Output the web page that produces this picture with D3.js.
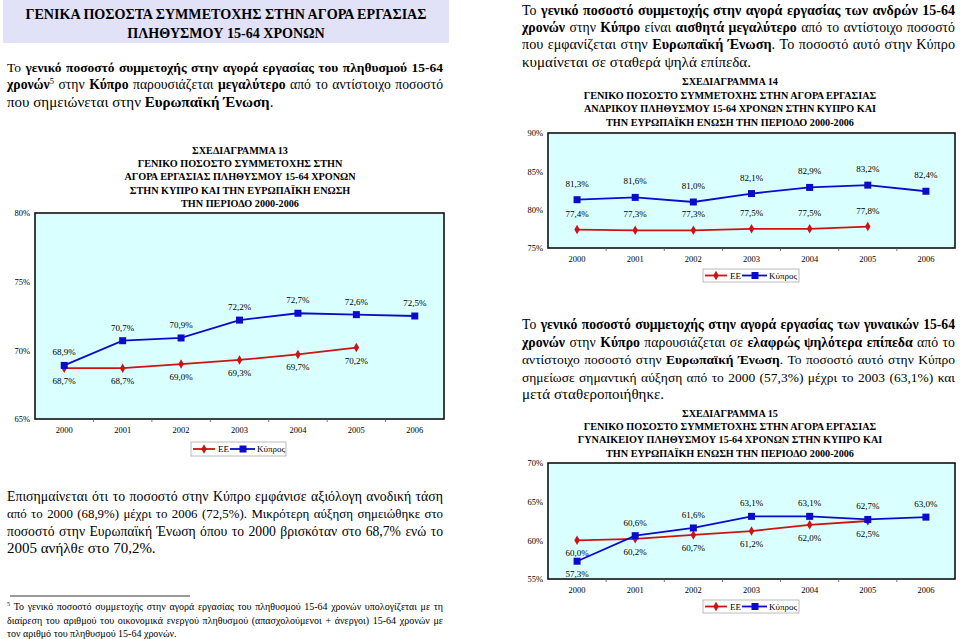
<!DOCTYPE html>
<html><head><meta charset="utf-8">
<script src="https://cdn.jsdelivr.net/npm/d3@7"></script>
<style>body{margin:0;background:#fff} svg{display:block} text{font-family:"Liberation Serif","Times New Roman",serif;fill:#000}</style>
</head><body>
<svg id="c" width="960" height="639"></svg>
<script>
// ---------- DATA ----------
const years = ["2000","2001","2002","2003","2004","2005","2006"];
const seriesNames = ["ΕΕ","Κύπρος"];
const totalEE = [68.7,68.7,69.0,69.3,69.7,70.2];
const totalCY = [68.9,70.7,70.9,72.2,72.7,72.6,72.5];
const menEE = [77.4,77.3,77.3,77.5,77.5,77.8];
const menCY = [81.3,81.6,81.0,82.1,82.9,83.2,82.4];
const womenEE = [60.0,60.2,60.7,61.2,62.0,62.5];
const womenCY = [57.3,60.6,61.6,63.1,63.1,62.7,63.0];
const ticksTotal = [65,70,75,80];
const ticksMen = [75,80,85,90];
const ticksWomen = [55,60,65,70];
// label placement: a = above, b = below
const totalEEPos = ["b","b","b","b","b","b"];
const totalCYPos = ["a","a","a","a","a","a","a"];
const menEEPos = ["a","a","a","a","a","a"];
const menCYPos = ["a","a","a","a","a","a","a"];
const womenEEPos = ["b","b","b","b","b","b"];
const womenCYPos = ["b","a","a","a","a","a","a"];

const headerLines = ["ΓΕΝΙΚΑ ΠΟΣΟΣΤΑ ΣΥΜΜΕΤΟΧΗΣ ΣΤΗΝ ΑΓΟΡΑ ΕΡΓΑΣΙΑΣ","ΠΛΗΘΥΣΜΟΥ 15-64 ΧΡΟΝΩΝ"];
const introLines = [
 "Το **γενικό ποσοστό συμμετοχής στην αγορά εργασίας του πληθυσμού 15-64**",
 "**χρονών**^5 στην **Κύπρο** παρουσιάζεται **μεγαλύτερο** από το αντίστοιχο ποσοστό",
 "που σημειώνεται στην **Ευρωπαϊκή Ένωση**."];
const title13 = ["ΣΧΕΔΙΑΓΡΑΜΜΑ 13","ΓΕΝΙΚΟ ΠΟΣΟΣΤΟ ΣΥΜΜΕΤΟΧΗΣ ΣΤΗΝ","ΑΓΟΡΑ ΕΡΓΑΣΙΑΣ ΠΛΗΘΥΣΜΟΥ 15-64 ΧΡΟΝΩΝ","ΣΤΗΝ ΚΥΠΡΟ ΚΑΙ ΤΗΝ ΕΥΡΩΠΑΪΚΗ ΕΝΩΣΗ","ΤΗΝ ΠΕΡΙΟΔΟ 2000-2006"];
const noteLines = [
 "Επισημαίνεται ότι το ποσοστό στην Κύπρο εμφάνισε αξιόλογη ανοδική τάση",
 "από το 2000 (68,9%) μέχρι το 2006 (72,5%). Μικρότερη αύξηση σημειώθηκε στο",
 "ποσοστό στην Ευρωπαϊκή Ένωση όπου το 2000 βρισκόταν στο 68,7% ενώ το",
 "2005 ανήλθε στο 70,2%."];
const footLines = [
 "^5 Το γενικό ποσοστό συμμετοχής στην αγορά εργασίας του πληθυσμού 15-64 χρονών υπολογίζεται με τη",
 "διαίρεση του αριθμού του οικονομικά ενεργού πληθυσμού (απασχολούμενοι + άνεργοι) 15-64 χρονών με",
 "τον αριθμό του πληθυσμού 15-64 χρονών."];
const menLines = [
 "Το **γενικό ποσοστό συμμετοχής στην αγορά εργασίας των ανδρών 15-64**",
 "**χρονών** στην **Κύπρο** είναι **αισθητά μεγαλύτερο** από το αντίστοιχο ποσοστό",
 "που εμφανίζεται στην **Ευρωπαϊκή Ένωση**. Το ποσοστό αυτό στην Κύπρο",
 "κυμαίνεται σε σταθερά ψηλά επίπεδα."];
const title14 = ["ΣΧΕΔΙΑΓΡΑΜΜΑ 14","ΓΕΝΙΚΟ ΠΟΣΟΣΤΟ ΣΥΜΜΕΤΟΧΗΣ ΣΤΗΝ ΑΓΟΡΑ ΕΡΓΑΣΙΑΣ","ΑΝΔΡΙΚΟΥ ΠΛΗΘΥΣΜΟΥ 15-64 ΧΡΟΝΩΝ ΣΤΗΝ ΚΥΠΡΟ ΚΑΙ","ΤΗΝ ΕΥΡΩΠΑΪΚΗ ΕΝΩΣΗ ΤΗΝ ΠΕΡΙΟΔΟ 2000-2006"];
const womenLines = [
 "Το **γενικό ποσοστό συμμετοχής στην αγορά εργασίας των γυναικών 15-64**",
 "**χρονών** στην **Κύπρο** παρουσιάζεται σε **ελαφρώς ψηλότερα επίπεδα** από το",
 "αντίστοιχο ποσοστό στην **Ευρωπαϊκή Ένωση**. Το ποσοστό αυτό στην Κύπρο",
 "σημείωσε σημαντική αύξηση από το 2000 (57,3%) μέχρι το 2003 (63,1%) και",
 "μετά σταθεροποιήθηκε."];
const title15 = ["ΣΧΕΔΙΑΓΡΑΜΜΑ 15","ΓΕΝΙΚΟ ΠΟΣΟΣΤΟ ΣΥΜΜΕΤΟΧΗΣ ΣΤΗΝ ΑΓΟΡΑ ΕΡΓΑΣΙΑΣ","ΓΥΝΑΙΚΕΙΟΥ ΠΛΗΘΥΣΜΟΥ 15-64 ΧΡΟΝΩΝ ΣΤΗΝ ΚΥΠΡΟ ΚΑΙ","ΤΗΝ ΕΥΡΩΠΑΪΚΗ ΕΝΩΣΗ ΤΗΝ ΠΕΡΙΟΔΟ 2000-2006"];

// ---------- DRAW ----------
const svg = d3.select("#c");
const RED = "#cc1414", BLUE = "#0c0cc8", BG = "#d9ffff";
const fmt = v => d3.format(".1f")(v).replace(".", ",") + "%";

function para(lines, x, y0, lh, width, size) {
  const g = svg.append("g");
  lines.forEach((line, i) => {
    const y = y0 + i * lh;
    const justify = i < lines.length - 1;
    let bold = false;
    const words = line.split(" ").map(w => {
      const t = g.append("text").attr("y", y).attr("font-size", size);
      let sup = false;
      w.split(/(\*\*|\^\d)/).forEach(p => {
        if (p === "") return;
        if (p === "**") { bold = !bold; return; }
        if (p[0] === "^") {
          t.append("tspan").attr("class", "sup").attr("font-size", size * 0.62).attr("dy", -size * 0.38).text(p.slice(1));
          sup = true; return;
        }
        const ts = t.append("tspan").attr("font-weight", bold ? "bold" : "normal").text(p);
        if (sup) { ts.attr("dy", size * 0.38); sup = false; }
      });
      return t;
    });
    const measure = () => words.map(t => t.node().getComputedTextLength());
    let ws = measure();
    let total = d3.sum(ws);
    const minGap = size * 0.28;
    const n = words.length;
    if (n > 1 && total + minGap * (n - 1) > width) {
      const k = (width - minGap * (n - 1)) / total * 0.995;
      const fs = size * k;
      words.forEach(t => {
        t.attr("font-size", fs);
        t.selectAll("tspan.sup").attr("font-size", fs * 0.62);
      });
      ws = measure(); total = d3.sum(ws);
    }
    let gap = size * 0.25;
    if (justify && n > 1) gap = (width - total) / (n - 1);
    let cx = x;
    words.forEach((t, k) => { t.attr("x", cx); cx += ws[k] + gap; });
  });
}

function centered(lines, cx, y0, lh, size, bold) {
  lines.forEach((l, i) => svg.append("text").attr("x", cx).attr("y", y0 + i * lh)
    .attr("text-anchor", "middle").attr("font-size", size).attr("font-weight", bold ? "bold" : "normal").text(l));
}

function chart(o) {
  const x = d3.scaleBand().domain(years).range([o.x0, o.x1]).padding(0);
  const y = d3.scaleLinear().domain([o.ticks[0], o.ticks[o.ticks.length - 1]]).range([o.y1, o.y0]);
  const g = svg.append("g");
  g.append("rect").attr("x", o.x0).attr("y", o.y0).attr("width", o.x1 - o.x0).attr("height", o.y1 - o.y0)
    .attr("fill", BG).attr("stroke", "#111").attr("stroke-width", 1.6);
  const ya = g.append("g").attr("transform", `translate(${o.x0},0)`)
    .call(d3.axisLeft(y).tickValues(o.ticks).tickFormat(d => d + "%").tickSize(0).tickPadding(5));
  ya.select(".domain").remove();
  ya.selectAll("text").attr("font-size", 8.5).attr("font-family", "Liberation Serif");
  const xa = g.append("g").attr("transform", `translate(0,${o.y1})`)
    .call(d3.axisBottom(x).tickSize(0).tickPadding(8));
  xa.select(".domain").remove();
  xa.selectAll("text").attr("font-size", 8.5).attr("font-family", "Liberation Serif");
  g.selectAll(".bt").data(years.slice(1)).join("line")
    .attr("x1", d => x(d)).attr("x2", d => x(d)).attr("y1", o.y1).attr("y2", o.y1 + 3)
    .attr("stroke", "#555").attr("stroke-width", 0.8);
  const cxp = (d, i) => x(years[i]) + x.bandwidth() / 2;
  const line = d3.line().x(cxp).y(d => y(d));
  g.append("path").attr("d", line(o.ee)).attr("fill", "none").attr("stroke", RED).attr("stroke-width", 1.8);
  g.append("path").attr("d", line(o.cy)).attr("fill", "none").attr("stroke", BLUE).attr("stroke-width", 1.8);
  g.selectAll(".ed").data(o.ee).join("path")
    .attr("transform", (d, i) => `translate(${cxp(d, i)},${y(d)})`)
    .attr("d", d3.symbol(d3.symbolDiamond, 26)).attr("fill", RED);
  g.selectAll(".cs").data(o.cy).join("rect")
    .attr("x", (d, i) => cxp(d, i) - 3.5).attr("y", d => y(d) - 3.5).attr("width", 7).attr("height", 7).attr("fill", BLUE);
  const lab = (arr, pos) => g.selectAll(null).data(arr).join("text")
    .attr("x", (d, i) => cxp(d, i)).attr("y", (d, i) => y(d) + (pos[i] === "a" ? o.up : o.down))
    .attr("text-anchor", "middle").attr("font-size", 9).text(d => fmt(d));
  lab(o.ee, o.eePos); lab(o.cy, o.cyPos);
  // legend
  const L = o.legend;
  const lg = g.append("g").attr("transform", `translate(${L.x},${L.y})`);
  lg.append("rect").attr("width", L.w).attr("height", L.h).attr("fill", "#fff").attr("stroke", "#aaa").attr("stroke-width", 0.8);
  const my = L.h / 2;
  lg.append("line").attr("x1", 2).attr("x2", 24).attr("y1", my).attr("y2", my).attr("stroke", RED).attr("stroke-width", 1.8);
  lg.append("path").attr("transform", `translate(13,${my})`).attr("d", d3.symbol(d3.symbolDiamond, 26)).attr("fill", RED);
  lg.append("text").attr("x", 27).attr("y", my + 3.2).attr("font-size", 9).text(seriesNames[0]);
  lg.append("line").attr("x1", 39).attr("x2", 64).attr("y1", my).attr("y2", my).attr("stroke", BLUE).attr("stroke-width", 1.8);
  lg.append("rect").attr("x", 48.5).attr("y", my - 3.5).attr("width", 7).attr("height", 7).attr("fill", BLUE);
  lg.append("text").attr("x", 66).attr("y", my + 3.2).attr("font-size", 9).text(seriesNames[1]);
}

// left column
svg.append("rect").attr("x", 3).attr("y", 0).attr("width", 446).attr("height", 43).attr("fill", "#e1e1f7");
centered(headerLines, 226, 19, 19, 14.1, true);
para(introLines, 7, 72, 17.3, 436, 15);
centered(title13, 240, 154, 13.2, 10.2, true);
chart({x0: 35, x1: 444, y0: 213, y1: 419, ticks: ticksTotal, ee: totalEE, cy: totalCY,
  eePos: totalEEPos, cyPos: totalCYPos, up: -10, down: 16,
  legend: {x: 191, y: 442, w: 95, h: 14}});
para(noteLines, 7, 501, 17.3, 436, 15);
svg.append("line").attr("x1", 10).attr("x2", 190).attr("y1", 596).attr("y2", 596).attr("stroke", "#000").attr("stroke-width", 0.8);
para(footLines, 7, 610, 13.5, 436, 10);

// right column
para(menLines, 522, 15, 17.2, 433, 15);
centered(title14, 730, 85, 13.6, 10.2, true);
chart({x0: 548, x1: 955, y0: 133, y1: 248, ticks: ticksMen, ee: menEE, cy: menCY,
  eePos: menEEPos, cyPos: menCYPos, up: -13, down: 16,
  legend: {x: 703, y: 269, w: 96, h: 13}});
para(womenLines, 522, 329, 17.5, 433, 15);
centered(title15, 730, 417, 13.2, 10.2, true);
chart({x0: 548, x1: 955, y0: 463, y1: 579, ticks: ticksWomen, ee: womenEE, cy: womenCY,
  eePos: womenEEPos, cyPos: womenCYPos, up: -10, down: 16,
  legend: {x: 703, y: 600, w: 96, h: 13}});
</script>
</body></html>
